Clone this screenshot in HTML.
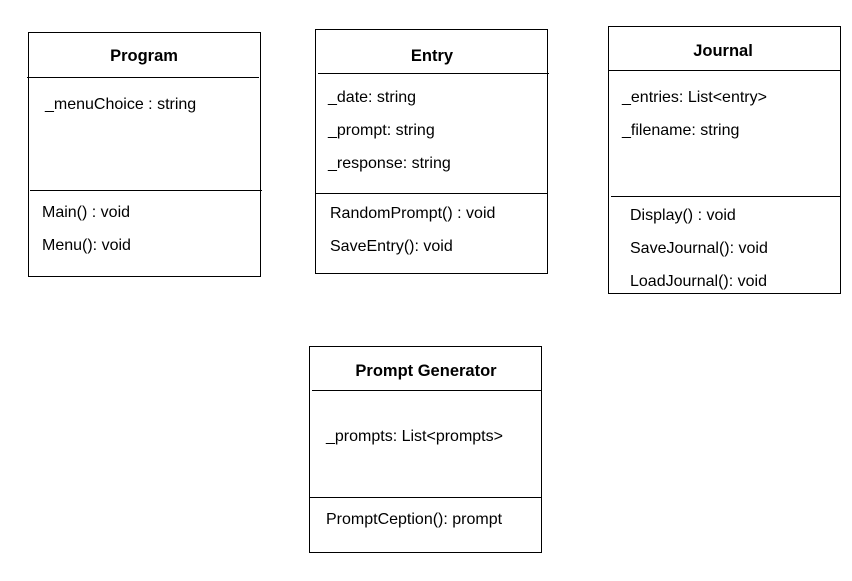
<!DOCTYPE html>
<html><head><style>body{margin:0;background:#fff}svg{display:block}</style></head><body>
<svg width="852" height="581" xmlns="http://www.w3.org/2000/svg" font-family="Liberation Sans, sans-serif" font-size="16" fill="#000">
<g fill="none" stroke="#000" stroke-width="1">
<rect x="28.5" y="32.5" width="232" height="244"/>
<line x1="27" y1="77.5" x2="259" y2="77.5"/><line x1="30" y1="190.5" x2="262" y2="190.5"/>
<rect x="315.5" y="29.5" width="232" height="244"/>
<line x1="318" y1="73.5" x2="549" y2="73.5"/><line x1="316" y1="193.5" x2="547" y2="193.5"/>
<rect x="608.5" y="26.5" width="232" height="267"/>
<line x1="609" y1="70.5" x2="840" y2="70.5"/><line x1="611" y1="196.5" x2="841" y2="196.5"/>
<rect x="309.5" y="346.5" width="232" height="206"/>
<line x1="312" y1="390.5" x2="542" y2="390.5"/><line x1="310" y1="497.5" x2="541" y2="497.5"/>
</g>
<g font-weight="bold" font-size="16.5" text-anchor="middle">
<text x="144" y="61">Program</text>
<text x="432" y="61">Entry</text>
<text x="723" y="56">Journal</text>
<text x="426" y="376">Prompt Generator</text>
</g>
<text x="45" y="109">_menuChoice : string</text>
<text x="42" y="217">Main() : void</text>
<text x="42" y="250">Menu(): void</text>
<text x="328" y="102">_date: string</text>
<text x="328" y="135">_prompt: string</text>
<text x="328" y="168">_response: string</text>
<text x="330" y="218">RandomPrompt() : void</text>
<text x="330" y="251">SaveEntry(): void</text>
<text x="622" y="102">_entries: List&lt;entry&gt;</text>
<text x="622" y="135">_filename: string</text>
<text x="630" y="220">Display() : void</text>
<text x="630" y="253">SaveJournal(): void</text>
<text x="630" y="286">LoadJournal(): void</text>
<text x="326" y="441">_prompts: List&lt;prompts&gt;</text>
<text x="326" y="524">PromptCeption(): prompt</text>
</svg>
</body></html>
